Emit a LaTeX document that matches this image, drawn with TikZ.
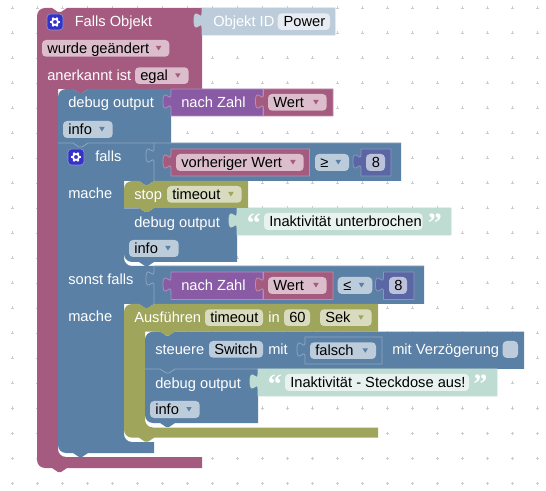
\documentclass[tikz,border=0pt]{standalone}
\usepackage{fontspec}
\setmainfont{Liberation Sans}
\newfontfamily\qfont{Liberation Serif}
\definecolor{pk}{HTML}{A55B80}
\definecolor{bl}{HTML}{5B80A5}
\definecolor{pu}{HTML}{8A5BA5}
\definecolor{ol}{HTML}{9FA55B}
\definecolor{nm}{HTML}{5B67A5}
\definecolor{te}{HTML}{BFDCD2}
\definecolor{lb}{HTML}{BDCCDB}
\definecolor{fpk}{HTML}{DBBDCC}
\definecolor{fbl}{HTML}{BDCCDB}
\definecolor{fol}{HTML}{D8DBBD}
\definecolor{fte}{HTML}{E8F3EF}
\definecolor{fob}{HTML}{E6ECF2}
\definecolor{fnm}{HTML}{BDC2DB}
\definecolor{hbl}{HTML}{8CA6C0}
\definecolor{hpk}{HTML}{C08CA6}
\definecolor{hpu}{HTML}{B08CC0}
\definecolor{hnm}{HTML}{8C95C0}
\definecolor{gr}{HTML}{CCCCCC}
\definecolor{ic}{HTML}{3333CC}
% path fragments (coordinates are reference pixels, y downwards)
\def\nT#1#2{-- (#1+15,#2) -- (#1+21,#2+4) -- (#1+24,#2+4) -- (#1+30,#2)}
\def\nB#1#2{-- (#1+30,#2) -- (#1+24,#2+4) -- (#1+21,#2+4) -- (#1+15,#2)}
\def\vT#1#2{-- (#1,#2+20) .. controls (#1,#2+10) and (#1-8,#2+28) .. (#1-8,#2+12.5) .. controls (#1-8,#2-3) and (#1,#2+15) .. (#1,#2+5)}
\def\cTL#1#2{-- (#1,#2+8) .. controls (#1,#2+3.6) and (#1+3.6,#2) .. (#1+8,#2)}
\def\cBL#1#2{-- (#1+8,#2) .. controls (#1+3.6,#2) and (#1,#2-3.6) .. (#1,#2-8)}
\def\cIn#1#2{-- (#1,#2-8) .. controls (#1,#2-3.6) and (#1+3.6,#2) .. (#1+8,#2)}
\newcounter{tn}
\newcommand\lab[3]{\stepcounter{tn}\node[lbl,text=white] (t\thetn) at (#1,#2) {#3};}
\newcommand\val[6]{\path[fill=#1,draw=#6,line width=.6pt] (#2,#3) -- (#4,#3) -- (#4,#5) -- (#2,#5) \vT{#2}{#3} -- cycle;}
\newcommand\fd[7]{\path[fld,fill=#5] (#1,#2) rectangle (#3,#4);\stepcounter{tn}\node[lbl] (t\thetn) at (#6,#2+13.7) {#7};}
\newcommand\dd[8]{\fd{#1}{#2}{#3}{#4}{#5}{#6}{#7}\path[fill=#8] (#3-13.5,#2+6) -- (#3-8,#2+6) -- (#3-10.75,#2+10.5) -- cycle;}
\newcommand\gearicon[2]{\path[fill=ic,draw=hnm,line width=.5pt,rounded corners=2.5pt] (#1,#2) rectangle (#1+16,#2+16);
 \draw[white,line width=1.3pt] (#1+8,#2+8) circle[radius=3];
 \foreach \a in {0,60,...,300}{\draw[white,line width=1.3pt] ($(#1+8,#2+8)+(\a:3)$) -- ($(#1+8,#2+8)+(\a:5)$);}}
\usetikzlibrary{calc}
\tikzset{
 lbl/.style={anchor=base west,inner sep=0pt,font=\fontsize{11pt}{13pt}\selectfont,text=black},
 fld/.style={rounded corners=3pt},
 qt/.style={anchor=base west,inner sep=0pt,text=white,font=\fontsize{21pt}{21pt}\qfont\bfseries},
}
\begin{document}
\begin{tikzpicture}[x=.75pt,y=-.75pt]
\useasboundingbox (0,0) rectangle (546,491);
% workspace grid
\foreach \i in {0,...,21}{\foreach \j in {0,...,19}{
 \draw[gr,line width=.5pt] (12+25*\i-1.5,8+25*\j) -- (12+25*\i+1.5,8+25*\j) (12+25*\i,8+25*\j-1.5) -- (12+25*\i,8+25*\j+1.5);}}
% main block
\path[fill=pk] (37,16) .. controls (37,11.6) and (40.6,8) .. (45,8) \nT{37}{8} -- (202,8) -- (202,89) \nB{58}{89} -- (58,89) \cIn{58}{457} -- (202,457) -- (202,468) \nB{37}{468} \cBL{37}{468} -- cycle;
\val{lb}{202}{8}{335}{35}{lb}
% debug 1
\path[fill=bl] (58,97) .. controls (58,92.6) and (61.6,89) .. (66,89) \nT{58}{89} -- (171,89) -- (171,143) \nB{58}{143} -- (58,143) -- cycle;
\val{pu}{171}{89}{263}{116}{hpu}
\val{pk}{263.5}{89}{333}{116}{hpk}
% falls block
\path[fill=bl] (58,143) \nT{58}{143} -- (154,143) -- (154,181) \nB{124}{181} -- (124,181) \cIn{124}{266} -- (154,266) -- (154,304) \nB{124}{304} -- (124,304) \cIn{124}{442} -- (154,442) -- (154,453) \nB{58}{453} \cBL{58}{453} -- cycle;
\draw[hbl,line width=.6pt] (58,143) \nT{58}{143} -- (154,143);
% compare blocks
\path[fill=bl] (154,143) -- (401,143) -- (401,181) -- (154,181) \vT{154}{143} -- cycle;
\draw[hbl,line width=.6pt] (154,181) \vT{154}{143} -- (154,143) -- (401,143);
\path[fill=bl] (154,266) -- (424,266) -- (424,304) -- (154,304) \vT{154}{266} -- cycle;
\draw[hbl,line width=.6pt] (154,304) \vT{154}{266} -- (154,266) -- (424,266);
\val{pk}{171}{149}{309.5}{176}{hpk}
\val{nm}{361}{149}{391}{176}{hnm}
\val{pu}{171}{272}{263}{299.5}{hpu}
\val{pk}{263.5}{272}{333}{299.5}{hpk}
\val{nm}{383.5}{272}{414}{299.5}{hnm}
% inner stack 1
\path[fill=bl] (124,208) \nT{124}{208} -- (237,208) -- (237,262) \nB{124}{262} \cBL{124}{262} -- cycle;
\draw[hbl,line width=.5pt] (124,208) -- (139,208);
\val{te}{237}{208}{451}{235}{te}
\path[fill=ol] (124,189) .. controls (124,184.6) and (127.6,181) .. (132,181) \nT{124}{181} -- (248,181) -- (248,208) \nB{124}{208} -- (124,208) -- cycle;
% olive statement
\path[fill=ol] (124,312) .. controls (124,307.6) and (127.6,304) .. (132,304) \nT{124}{304} -- (378,304) -- (378,331.7) \nB{145}{331.7} -- (145,331.7) \cIn{145}{427.5} -- (378,427.5) -- (378,437.7) \nB{124}{437.7} \cBL{124}{437.7} -- cycle;
% steuere
\path[fill=bl] (145,339.7) .. controls (145,335.3) and (148.6,331.7) .. (153,331.7) \nT{145}{331.7} -- (524,331.7) -- (524,369) \nB{145}{369} -- (145,369) -- cycle;
\val{bl}{305}{337}{382}{364}{hbl}
% debug 2
\path[fill=bl] (145,369) \nT{145}{369} -- (258,369) -- (258,423) \nB{145}{423} \cBL{145}{423} -- cycle;
\draw[hbl,line width=.6pt] (145,369) \nT{145}{369} -- (258,369);
\val{te}{258}{369}{497}{396}{te}
% texts and fields
\gearicon{47}{14}
\lab{74.5}{26.7}{Falls Objekt}
\lab{213}{27}{Objekt ID}
\fd{277.7}{13.3}{330}{30}{fob}{283.3}{Power}
\dd{42}{40}{169.3}{56.7}{fpk}{47}{wurde geändert}{pk}
\lab{47}{81}{anerkannt ist}
\dd{135}{67.3}{188.6}{84}{fpk}{140}{egal}{pk}
\lab{68}{107.7}{debug output}
\lab{181}{107.7}{nach Zahl}
\dd{268}{94}{326.7}{110.7}{fpk}{273}{Wert}{pk}
\dd{63}{121}{112.7}{138}{fbl}{68}{info}{bl}
\gearicon{68}{149}
\lab{95}{161.7}{falls}
\dd{176}{154}{303.7}{171}{fpk}{181}{vorheriger Wert}{pk}
\dd{315}{154}{349}{171}{fbl}{320}{≥}{bl}
\fd{366}{154}{385}{171}{fnm}{371.5}{8}
\lab{68}{199}{mache}
\lab{134}{200}{stop}
\dd{167}{186}{241.7}{202.7}{fol}{172}{timeout}{ol}
\lab{134}{227.3}{debug output}
\node[qt] (q1) at (246.5,233) {“};
\fd{264}{213}{422.7}{230}{fte}{269}{Inaktivität unterbrochen}
\node[qt] (q2) at (427.5,233) {”};
\dd{129}{240}{178.7}{257}{fbl}{134}{info}{bl}
\lab{68}{285}{sonst falls}
\lab{181}{290.7}{nach Zahl}
\dd{268}{277}{326.7}{294}{fpk}{273}{Wert}{pk}
\dd{337.7}{277}{372.3}{294}{fbl}{343}{≤}{bl}
\fd{389}{277}{407}{294}{fnm}{394}{8}
\lab{68}{321.7}{mache}
\lab{134}{322.7}{Ausführen}
\fd{205}{309.3}{263}{326}{fol}{210}{timeout}
\lab{268}{322.7}{in}
\fd{284}{309.3}{310}{326}{fol}{289}{60}
\dd{320}{309.3}{371.7}{326}{fol}{325}{Sek}{ol}
\lab{155}{355}{steuere}
\fd{209}{341}{263}{357.7}{fbl}{214}{Switch}
\lab{268}{355}{mit}
\dd{310}{342.3}{376}{359}{fbl}{315}{falsch}{bl}
\lab{392}{355}{mit Verzögerung}
\path[fld,fill=fbl] (502.7,341) rectangle (518,358);
\lab{155}{388.3}{debug output}
\node[qt] (q3) at (267.5,393) {“};
\fd{285}{374}{469}{391}{fte}{290}{Inaktivität - Steckdose aus!}
\node[qt] (q4) at (473,393) {”};
\dd{150}{401}{199.7}{418}{fbl}{155}{info}{bl}
\end{tikzpicture}
\end{document}
